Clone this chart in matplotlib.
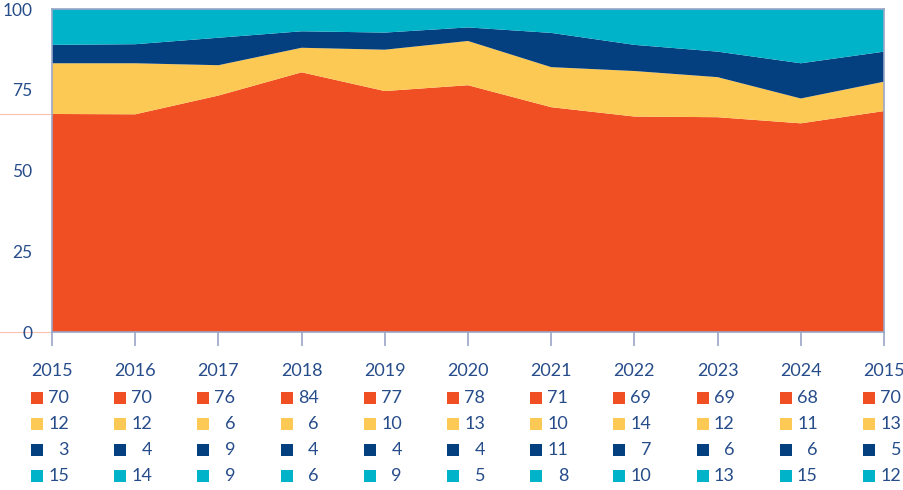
import matplotlib
matplotlib.use("Agg")
import matplotlib.pyplot as plt
import matplotlib.transforms as mtransforms
import numpy as np

years = ["2015", "2016", "2017", "2018", "2019", "2020", "2021", "2022", "2023", "2024", "2015"]

# values printed in the table under the chart
t_orange = [70, 70, 76, 84, 77, 78, 71, 69, 69, 68, 70]
t_yellow = [12, 12, 6, 6, 10, 13, 10, 14, 12, 11, 13]
t_navy = [3, 4, 9, 4, 4, 4, 11, 7, 6, 6, 5]
t_cyan = [15, 14, 9, 6, 9, 5, 8, 10, 13, 15, 12]

# band thicknesses as drawn in the area chart
a_orange = [67.5, 67.4, 73.2, 80.4, 74.6, 76.4, 69.6, 66.7, 66.5, 64.6, 68.4]
a_yellow = [15.7, 15.8, 9.4, 7.6, 12.8, 13.7, 12.4, 14.1, 12.4, 7.7, 9.1]
a_navy = [5.7, 5.9, 8.5, 5.1, 5.3, 4.2, 10.6, 8.1, 7.9, 10.9, 9.3]
a_cyan = [11.1, 10.9, 8.9, 6.9, 7.3, 5.7, 7.4, 11.1, 13.2, 16.8, 13.2]

y_ticks = [0, 25, 50, 75, 100]

colors = ["#F04E23", "#FDC955", "#043F80", "#00B3C8"]
text_color = "#264C8A"
frame_color = "#9AA6C8"

plt.rcParams["font.family"] = ["Lato", "DejaVu Sans"]

fig = plt.figure(figsize=(9.04, 4.90), dpi=100)
ax = fig.add_axes([52 / 904, 1 - 332 / 490, (884 - 52) / 904, (332 - 9) / 490])

x = np.arange(len(years))
ax.stackplot(x, a_orange, a_yellow, a_navy, a_cyan, colors=colors, linewidth=0)

ax.set_xlim(0, len(years) - 1)
ax.set_ylim(0, 100)
ax.set_yticks(y_ticks)
ax.set_yticklabels([str(v) for v in y_ticks], color=text_color, fontsize=12.5)
ax.tick_params(axis="y", length=0, pad=14)
ax.set_xticks(x)
ax.set_xticklabels(years, color=text_color, fontsize=13)
ax.tick_params(axis="x", length=10, width=1.2, color=frame_color, pad=12, direction="out")
for sp in ax.spines.values():
    sp.set_color(frame_color)
    sp.set_linewidth(1.2)

# faint guide lines to the left of the axis
for yv in [a_orange[0], 0]:
    ax.plot([-0.625, 0], [yv, yv], color="#F9C2B0", lw=0.8, clip_on=False, zorder=0)

blend = mtransforms.blended_transform_factory(ax.transData, ax.transAxes)
row_y = [-0.204, -0.285, -0.365, -0.446]
sq_off = mtransforms.ScaledTranslation(-15 / 100, 0, fig.dpi_scale_trans)
tx_off = mtransforms.ScaledTranslation(17 / 100, 0, fig.dpi_scale_trans)
table = [t_orange, t_yellow, t_navy, t_cyan]
for r, (vals, col) in enumerate(zip(table, colors)):
    for i, v in enumerate(vals):
        ax.plot([x[i]], [row_y[r]], marker="s", markersize=8.5, color=col,
                markeredgewidth=0, transform=blend + sq_off, clip_on=False)
        ax.text(x[i], row_y[r], str(v), transform=blend + tx_off, ha="right",
                va="center", color=text_color, fontsize=13)

fig.savefig("out.png", dpi=100)
